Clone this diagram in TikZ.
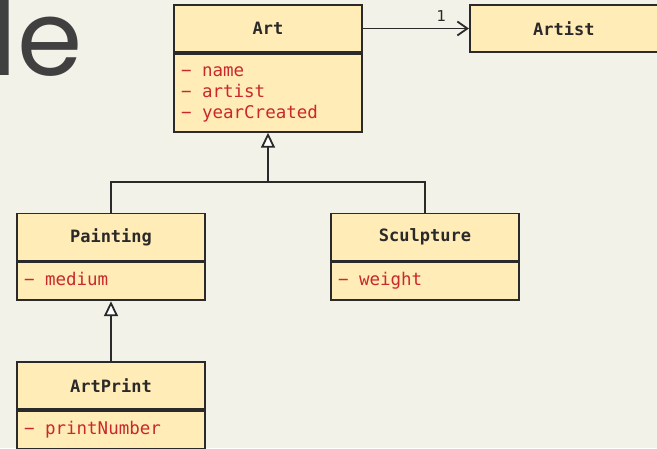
\documentclass[tikz,border=0pt]{standalone}
\usepackage{fontspec}
\setmonofont{DejaVu Sans Mono}
\newfontfamily\titlefont{Poppins}
\newfontfamily\labelfont{DejaVu Sans}
\usetikzlibrary{positioning, arrows.meta}

\definecolor{pagebg}{HTML}{F3F2E8}
\definecolor{classfill}{HTML}{FFECB6}
\definecolor{classline}{HTML}{2A2A2A}
\definecolor{attrred}{HTML}{C9282D}
\definecolor{titlegray}{HTML}{404040}

\newcommand{\attrline}[1]{\strut−\hphantom{x}#1}

\tikzset{
	umlpicture/.style = {
		x = 1pt,
		y = -1pt,
		color = classline,
		line width = 1.8pt,
		assoc/.style = {
			draw,
			-{Straight Barb[length=10pt, width=14pt]},
		},
		inherit/.style = {
			draw,
			-{Triangle[length=15pt, width=14pt, fill=white]},
		}
	},
	classname/.style = {
		draw = classline,
		fill = classfill,
		minimum width = 188pt,
		minimum height = 47pt,
		inner sep = 0pt,
		font = \ttfamily\bfseries\fontsize{17}{21}\selectfont
	},
	classattr/.style = {
		draw = classline,
		fill = classfill,
		text = attrred,
		text width = 174pt,
		inner xsep = 7pt,
		align = left,
		minimum height = 38pt,
		font = \ttfamily\fontsize{17.5}{21}\selectfont
	},
	title/.style = {
		text = titlegray,
		inner sep = 0pt,
		font = \titlefont\fontsize{105}{105}\selectfont
	},
	multiplicity/.style = {
		font = \labelfont\fontsize{15}{15}\selectfont
	}
}

\begin{document}
\begin{tikzpicture}[umlpicture]
	\useasboundingbox (0, 0) rectangle (657, 448);
	\fill[pagebg] (0, 0) rectangle (657, 448);

	\node[title, anchor = base west] (heading) at (-9, 75) {le};

	\node[classname] (art) at (268, 28.5) {Art};
	\node[classattr, minimum height = 78pt, below = 0pt of art] (art-attr) {\attrline{name}\\\attrline{artist}\\\attrline{yearCreated}};
	\node[classname, right = 106pt of art] (artist) {Artist};
	\node[classname] (painting) at (111, 237) {Painting};
	\node[classattr, below = 0pt of painting] (painting-attr) {\attrline{medium}};
	\node[classname] (sculpture) at (425, 237) {Sculpture};
	\node[classattr, below = 0pt of sculpture] (sculpture-attr) {\attrline{weight}};
	\node[classname] (artprint) at (111, 385.5) {ArtPrint};
	\node[classattr, below = 0pt of artprint] (artprint-attr) {\attrline{printNumber}};

	\coordinate (split) at (268, 182);

	\path[assoc] (art) to node[multiplicity, pos = 0.74, above = 3pt] {1} (artist);

	\path[draw] (painting) |- (split) -| (sculpture);
	\path[inherit] (split) -- (art-attr);
	\path[inherit] (artprint) -- (painting-attr);
\end{tikzpicture}
\end{document}
